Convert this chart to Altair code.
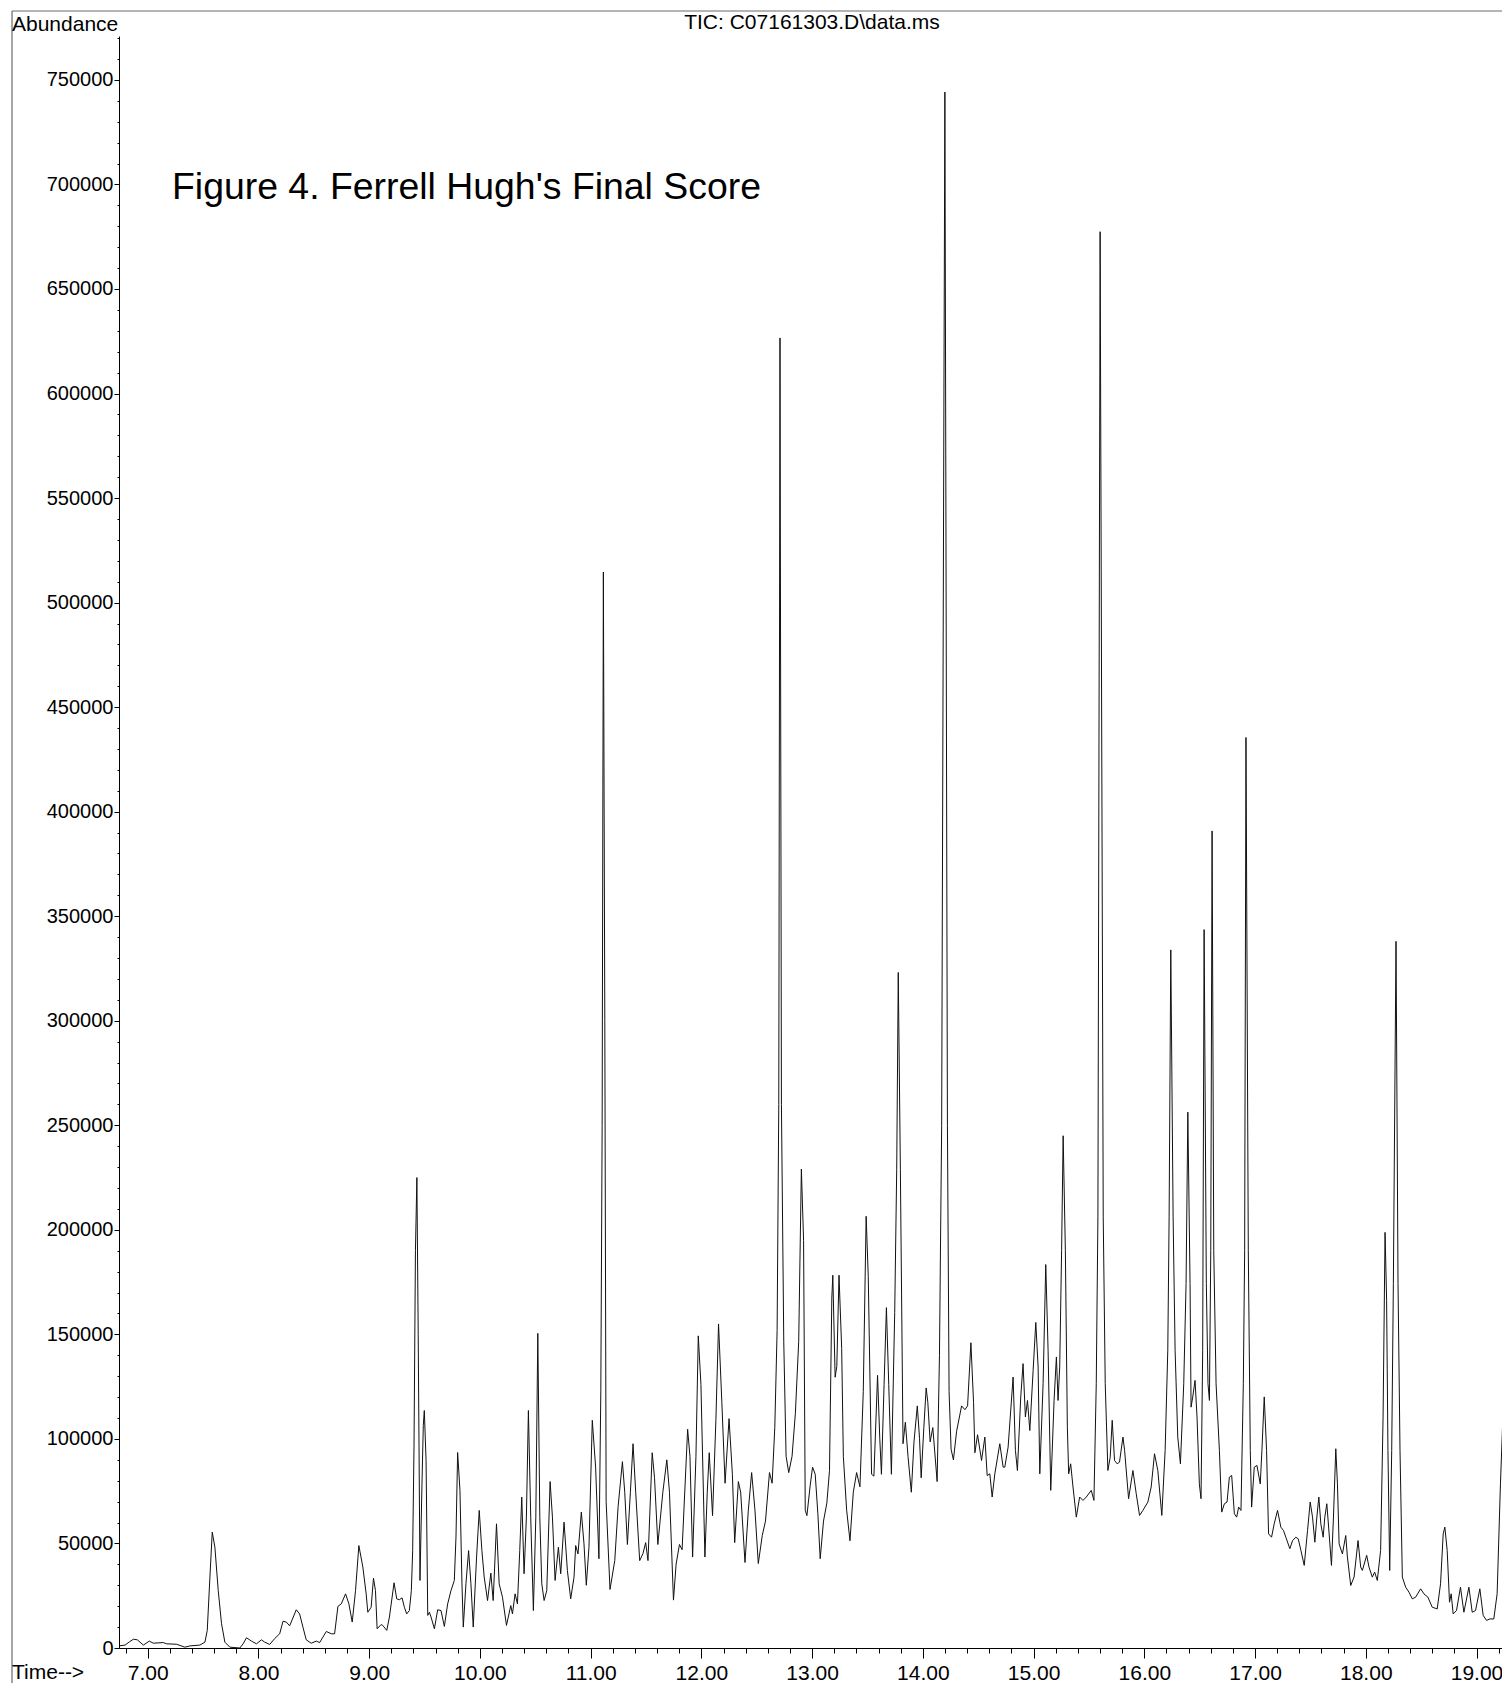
import altair as alt
import pandas as pd

FONT = "Liberation Sans"

# Retention time (min) and abundance
times = [
    6.742, 6.796, 6.835, 6.871, 6.907, 6.961, 7.015, 7.051, 7.141, 7.171, 7.261, 7.336, 7.381, 7.471,
    7.517, 7.538, 7.562, 7.583, 7.607, 7.637, 7.667, 7.697, 7.742, 7.832, 7.862, 7.892, 7.937, 7.982,
    8.027, 8.057, 8.102, 8.147, 8.192, 8.222, 8.252, 8.282, 8.342, 8.372, 8.402, 8.432, 8.477, 8.523,
    8.553, 8.613, 8.658, 8.688, 8.718, 8.748, 8.787, 8.817, 8.847, 8.877, 8.907, 8.943, 8.973, 8.988,
    9.018, 9.039, 9.057, 9.072, 9.108, 9.123, 9.159, 9.183, 9.225, 9.249, 9.273, 9.297, 9.318, 9.339,
    9.363, 9.381, 9.393, 9.405, 9.418, 9.431, 9.443, 9.459, 9.477, 9.489, 9.498, 9.514, 9.529, 9.544,
    9.559, 9.589, 9.619, 9.649, 9.679, 9.709, 9.739, 9.769, 9.784, 9.799, 9.820, 9.838, 9.850, 9.874,
    9.898, 9.919, 9.940, 9.970, 9.994, 10.018, 10.039, 10.069, 10.099, 10.120, 10.150, 10.174, 10.204,
    10.240, 10.279, 10.294, 10.318, 10.339, 10.360, 10.378, 10.399, 10.420, 10.438, 10.459, 10.483,
    10.505, 10.523, 10.541, 10.559, 10.580, 10.604, 10.634, 10.655, 10.679, 10.709, 10.730, 10.760,
    10.790, 10.820, 10.850, 10.865, 10.886, 10.916, 10.940, 10.961, 10.985, 11.015, 11.045, 11.075,
    11.092, 11.104, 11.115, 11.128, 11.140, 11.175, 11.218, 11.248, 11.287, 11.308, 11.332, 11.359,
    11.383, 11.407, 11.443, 11.473, 11.497, 11.518, 11.556, 11.577, 11.607, 11.652, 11.688, 11.712,
    11.748, 11.772, 11.802, 11.826, 11.876, 11.897, 11.921, 11.951, 11.972, 11.996, 12.032, 12.053,
    12.071, 12.101, 12.131, 12.155, 12.185, 12.214, 12.250, 12.280, 12.301, 12.334, 12.355, 12.394,
    12.424, 12.454, 12.484, 12.514, 12.550, 12.579, 12.615, 12.639, 12.663, 12.684, 12.699, 12.710,
    12.723, 12.744, 12.765, 12.789, 12.819, 12.849, 12.879, 12.903, 12.923, 12.938, 12.953, 12.983,
    13.004, 13.028, 13.052, 13.073, 13.103, 13.133, 13.157, 13.178, 13.187, 13.208, 13.223, 13.243,
    13.267, 13.282, 13.312, 13.342, 13.372, 13.402, 13.432, 13.462, 13.488, 13.507, 13.537, 13.558,
    13.591, 13.611, 13.626, 13.650, 13.671, 13.692, 13.716, 13.746, 13.764, 13.778, 13.797, 13.821,
    13.842, 13.866, 13.896, 13.920, 13.950, 13.970, 13.985, 14.009, 14.030, 14.045, 14.066, 14.090,
    14.129, 14.150, 14.170, 14.199, 14.222, 14.237, 14.255, 14.276, 14.305, 14.350, 14.380, 14.404,
    14.434, 14.458, 14.470, 14.494, 14.530, 14.560, 14.581, 14.605, 14.626, 14.650, 14.695, 14.725,
    14.740, 14.770, 14.815, 14.836, 14.854, 14.884, 14.905, 14.926, 14.945, 14.966, 14.996, 15.020,
    15.041, 15.056, 15.086, 15.110, 15.131, 15.155, 15.185, 15.206, 15.221, 15.236, 15.253, 15.267,
    15.287, 15.305, 15.317, 15.335, 15.356, 15.386, 15.416, 15.446, 15.476, 15.521, 15.545, 15.566,
    15.581, 15.601, 15.629, 15.647, 15.671, 15.692, 15.710, 15.731, 15.755, 15.776, 15.807, 15.822,
    15.858, 15.897, 15.927, 15.957, 15.987, 16.032, 16.062, 16.092, 16.122, 16.158, 16.188, 16.212,
    16.224, 16.239, 16.260, 16.278, 16.302, 16.326, 16.356, 16.377, 16.393, 16.413, 16.422, 16.437,
    16.458, 16.476, 16.497, 16.512, 16.527, 16.540, 16.560, 16.575, 16.588, 16.600, 16.612, 16.627,
    16.648, 16.678, 16.699, 16.723, 16.747, 16.768, 16.789, 16.813, 16.834, 16.852, 16.873, 16.894,
    16.906, 16.918, 16.939, 16.957, 16.969, 16.993, 17.017, 17.047, 17.062, 17.083, 17.104, 17.122,
    17.149, 17.173, 17.203, 17.233, 17.257, 17.278, 17.314, 17.339, 17.368, 17.390, 17.414, 17.444,
    17.474, 17.498, 17.519, 17.540, 17.558, 17.576, 17.594, 17.615, 17.630, 17.648, 17.669, 17.690,
    17.708, 17.729, 17.744, 17.759, 17.789, 17.819, 17.834, 17.864, 17.894, 17.930, 17.954, 17.969,
    18.008, 18.029, 18.059, 18.080, 18.104, 18.134, 18.156, 18.174, 18.188, 18.200, 18.216, 18.234,
    18.249, 18.273, 18.291, 18.309, 18.330, 18.360, 18.390, 18.420, 18.450, 18.495, 18.525, 18.561,
    18.600, 18.645, 18.675, 18.699, 18.714, 18.735, 18.756, 18.771, 18.789, 18.819, 18.855, 18.886,
    18.931, 18.961, 18.991, 19.030, 19.060, 19.090, 19.120, 19.156, 19.186, 19.216, 19.240,
]

abundance = [
    1000, 1400, 2950, 4200, 3900, 1400, 3300, 2300, 2600, 2000, 1800, 400, 1000, 1400,
    2800, 8400, 33900, 55400, 48200, 27500, 11600, 2800, 400, 0, 2000, 4900, 3300, 2000,
    3900, 2800, 1700, 4500, 6800, 12800, 12400, 10600, 18300, 16300, 10000, 3900, 2300, 3300,
    2600, 7900, 6800, 6800, 19900, 21100, 25900, 21100, 12400, 27500, 49000, 38700, 25900, 17100,
    19500, 33400, 27500, 9200, 11200, 10800, 8400, 14800, 31200, 23500, 23100, 24000, 19500, 16300,
    17900, 27500, 46700, 96100, 190000, 225000, 150000, 32300, 78500, 106500, 113600, 89700, 15600, 17100,
    14800, 9200, 18300, 17900, 10300, 21100, 27500, 32300, 53000, 93500, 75400, 30700, 10000, 30700,
    46600, 30700, 10000, 43500, 65800, 46600, 33900, 22700, 35800, 22700, 59400, 30700, 24300,
    10800, 20300, 16300, 25900, 21100, 46600, 72200, 35500, 62600, 113600, 62600, 17900,
    62600, 150500, 62600, 30700, 22700, 27500, 79600, 62600, 32300, 48200, 35500, 60200,
    37100, 23500, 33900, 49000, 45000, 65000, 49800, 30000, 48200, 108900, 86500, 42700,
    123000, 250000, 514600, 300000, 70000, 28000, 41800, 67600, 89100, 74500, 49500, 74500,
    97700, 74500, 41800, 45200, 50400, 41800, 93400, 81400, 49500, 74500, 90000, 74500,
    22900, 40100, 49500, 47000, 104600, 91700, 43500, 91700, 149300, 126100, 43500, 74500,
    93400, 63300, 108900, 155000, 117500, 78800, 109700, 83100, 50400, 79600, 74500, 40900,
    65900, 83900, 65900, 40400, 53800, 60700, 83900, 78800, 105400, 151900, 260000, 626600,
    260000, 146700, 91700, 83900, 91700, 112300, 146700, 229100, 194900, 65900, 63300, 77900,
    86500, 83100, 64200, 42700, 60700, 69300, 84800, 167400, 178300, 129500, 134700, 178300,
    143300, 91700, 65900, 51300, 74500, 83900, 77100, 122600, 206500, 177700, 83100, 82200,
    130400, 100300, 83100, 126100, 162800, 126100, 83100, 160500, 229000, 323100, 229000, 97700,
    108000, 91700, 74500, 98600, 115800, 100300, 81400, 105400, 124400, 117500, 98600, 105400,
    79600, 139800, 250000, 744200, 250000, 122600, 95100, 90000, 103700, 115800, 114000, 115800,
    146000, 117500, 93400, 102000, 89700, 100900, 82500, 83300, 72200, 83300, 97700, 86500,
    86500, 96100, 129600, 94500, 84900, 120100, 136000, 110500, 118400, 104000, 132800, 155700,
    134400, 83300, 126400, 183400, 142400, 75400, 118400, 139200, 118400, 134400, 190000, 245000,
    190000, 105600, 83300, 88100, 77000, 62600, 72200, 70600, 72200, 75400, 70600, 126400,
    206200, 677400, 206200, 126400, 84900, 91300, 108900, 89700, 88100, 88900, 100900, 94500,
    71400, 84900, 73800, 63400, 65800, 69800, 77000, 92900, 84900, 63400, 94500, 142400,
    206200, 333900, 206200, 142400, 100900, 88100, 126400, 174300, 256300, 174300, 115200, 120000,
    128000, 110500, 78500, 71400, 142400, 343600, 174300, 126400, 118400, 190000, 390800, 190000,
    126400, 94500, 65000, 69000, 69800, 81700, 82500, 64200, 62600, 67400, 65800, 126400,
    190000, 435500, 190000, 94500, 67400, 86500, 87300, 78500, 94500, 120100, 94500, 54600,
    53000, 59400, 65800, 57800, 56200, 53000, 47500, 51400, 53000, 52200, 46700, 39500,
    56200, 69800, 62600, 50600, 62600, 72200, 59400, 53000, 62600, 69000, 54600, 39500,
    62600, 95300, 78500, 49800, 45000, 53800, 43500, 29900, 33900, 51400, 38700, 37100,
    44300, 38700, 33900, 36300, 32300, 46700, 110400, 198800, 166300, 94500, 37100, 94500,
    174300, 338000, 174300, 94500, 33900, 29100, 26700, 23500, 24300, 28300, 25900, 24300,
    19500, 18700, 30700, 54600, 57800, 46700, 21900, 25900, 16300, 17900, 29100, 17100,
    29100, 17100, 17900, 28300, 15600, 13200, 13900, 13900, 25900, 78500, 113600,
]

# Axis tick positions and labels
x_major = [7, 8, 9, 10, 11, 12, 13, 14, 15, 16, 17, 18, 19]
x_minor = [v for v in [round(6.8 + 0.2 * i, 1) for i in range(63)] if abs(v - round(v)) > 1e-9]
y_major = list(range(0, 750001, 50000))
y_minor = list(range(0, 770001, 10000))

title_text = "TIC: C07161303.D\\data.ms"
y_title = "Abundance"
x_title = "Time-->"
note_text = "Figure 4. Ferrell Hugh's Final Score"

W, H = 1383, 1612
x_scale = alt.Scale(domain=[6.741, 19.23], nice=False, zero=False)
y_scale = alt.Scale(domain=[0, 771000], nice=False, zero=True)

df = pd.DataFrame({"t": times, "a": abundance})
one = pd.DataFrame({"t": [7.0], "a": [0]})

line = alt.Chart(df).mark_line(color="#111111", strokeWidth=1, clip=True).encode(
    x=alt.X("t:Q", scale=x_scale, title=None,
            axis=alt.Axis(values=x_major, format=".2f", orient="bottom", tickSize=10,
                          labelPadding=4, labelFont=FONT, labelFontSize=21, labelColor="black",
                          tickColor="black", domainColor="black", domainWidth=1, tickWidth=1,
                          grid=False, labelFlush=False, labelOverlap=False, labelBaseline="top")),
    y=alt.Y("a:Q", scale=y_scale, title=None,
            axis=alt.Axis(values=y_major, format="d", orient="left", tickSize=5,
                          labelPadding=1, labelFont=FONT, labelFontSize=20, labelColor="black",
                          tickColor="black", domainColor="black", domainWidth=1, tickWidth=1,
                          grid=False, labelFlush=False, labelOverlap=False)),
)

minor = alt.Chart(one).mark_point(opacity=0).encode(
    x=alt.X("t:Q", scale=x_scale, title=None,
            axis=alt.Axis(values=x_minor, labels=False, domain=False, orient="bottom",
                          tickSize=5, tickColor="black", tickWidth=1, grid=False)),
    y=alt.Y("a:Q", scale=y_scale, title=None,
            axis=alt.Axis(values=y_minor, labels=False, domain=False, orient="left",
                          tickSize=2, tickColor="black", tickWidth=1, grid=False)),
)

frame_v = alt.Chart(one).mark_rule(color="#6a6a6a", strokeWidth=1.2).encode(
    x=alt.value(-107), y=alt.value(-25), y2=alt.value(1700))
frame_h = alt.Chart(one).mark_rule(color="#6a6a6a", strokeWidth=1.2).encode(
    y=alt.value(-25), x=alt.value(-107), x2=alt.value(1400))

t_title = alt.Chart(one).mark_text(text=title_text, font=FONT, fontSize=21, color="black",
                                   align="center", baseline="alphabetic").encode(
    x=alt.value(693), y=alt.value(-7))
t_ylab = alt.Chart(one).mark_text(text=y_title, font=FONT, fontSize=21, color="black",
                                  align="left", baseline="alphabetic").encode(
    x=alt.value(-107), y=alt.value(-5))
t_xlab = alt.Chart(one).mark_text(text=x_title, font=FONT, fontSize=21, color="black",
                                  align="left", baseline="alphabetic").encode(
    x=alt.value(-107), y=alt.value(H + 31))
t_note = alt.Chart(one).mark_text(text=note_text, font=FONT, fontSize=37.4, color="black",
                                  align="left", baseline="alphabetic").encode(
    x=alt.value(53), y=alt.value(163))

chart = alt.layer(minor, line, frame_v, frame_h, t_title, t_ylab, t_xlab, t_note).resolve_axis(
    x="independent", y="independent"
).properties(
    width=W, height=H,
    padding={"left": 111, "top": 28, "right": 0, "bottom": 35},
    autosize=alt.AutoSizeParams(type="none"),
    background="white",
).configure_view(stroke=None)

chart.save("out.html", embed_options={"renderer": "svg", "actions": False})
